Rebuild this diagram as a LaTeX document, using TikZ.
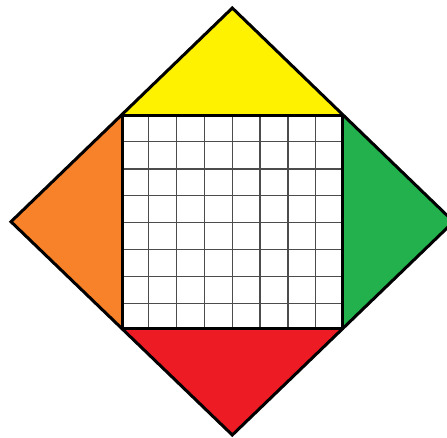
\documentclass[tikz,border=0pt]{standalone}
\definecolor{cyellow}{RGB}{255,242,0}
\definecolor{corange}{RGB}{247,130,41}
\definecolor{cgreen}{RGB}{34,177,76}
\definecolor{cred}{RGB}{237,28,36}
\begin{document}
\begin{tikzpicture}[x=1pt,y=-1pt,
  outline/.style={draw=black,line width=3pt,line join=miter},
  gridline/.style={draw=black!70,line width=1.1pt}]
\useasboundingbox (0,0) rectangle (447,437);
\clip (0,0) rectangle (447,437);
\coordinate (T) at (232.3,8);
\coordinate (L) at (11,221.7);
\coordinate (B) at (232.3,435);
\coordinate (R) at (453.6,221.7);
\coordinate (A) at (122,115.7);
\coordinate (C) at (342.6,115.7);
\coordinate (D) at (342.6,328.3);
\coordinate (E) at (122,328.3);
\fill[cyellow] (T) -- (A) -- (C) -- cycle;
\fill[corange] (L) -- (A) -- (E) -- cycle;
\fill[cgreen] (R) -- (C) -- (D) -- cycle;
\fill[cred] (B) -- (E) -- (D) -- cycle;
\fill[white] (A) rectangle (D);
\foreach \gx in {148.7,176.7,204.3,232.3,260,288,315.7}
  \draw[gridline] (\gx,115.7) -- (\gx,328.3);
\foreach \gy in {141.7,169,195.7,222.3,249.3,276.3,303.3}
  \draw[gridline] (122,\gy) -- (342.6,\gy);
\draw[outline] (A) rectangle (D);
\draw[outline] (T) -- (L) -- (B) -- (R) -- cycle;
\end{tikzpicture}
\end{document}
